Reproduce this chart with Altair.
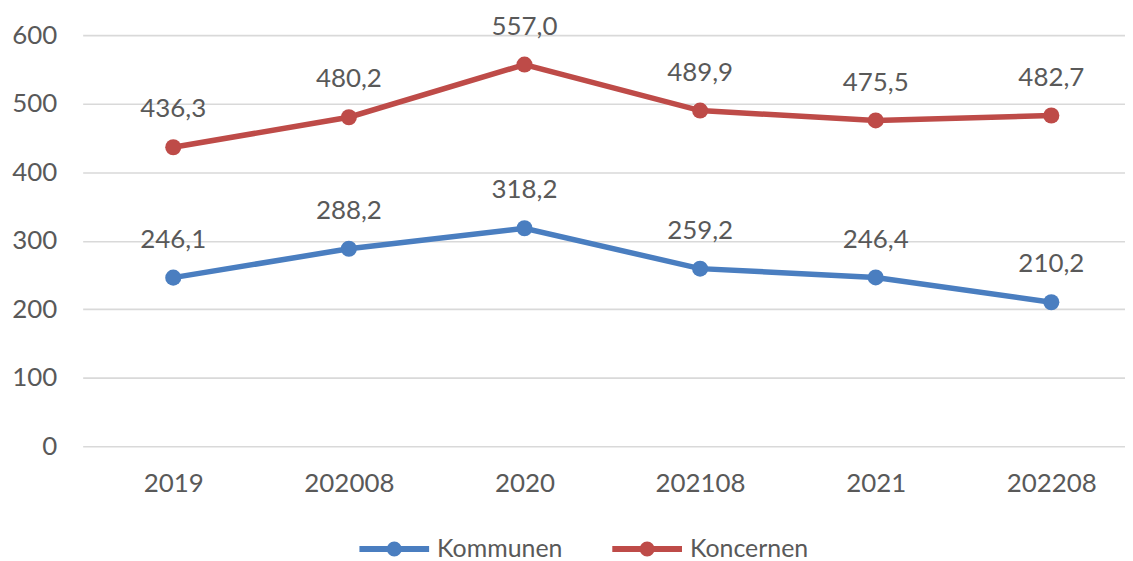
import altair as alt
import pandas as pd

periods = ["2019", "202008", "2020", "202108", "2021", "202208"]
kommunen = [246.1, 288.2, 318.2, 259.2, 246.4, 210.2]
koncernen = [436.3, 480.2, 557.0, 489.9, 475.5, 482.7]
series_names = ["Kommunen", "Koncernen"]
series_colors = ["#4A7EC0", "#BE4B48"]

rows = []
for p, v in zip(periods, kommunen):
    rows.append({"period": p, "value": v, "series": series_names[0]})
for p, v in zip(periods, koncernen):
    rows.append({"period": p, "value": v, "series": series_names[1]})
df = pd.DataFrame(rows)

FONT = "Lato"
GREY = "#595959"
FS = 26

x = alt.X("period:N", sort=periods,
          scale=alt.Scale(type="point", padding=0.4677, align=0.5515),
          axis=alt.Axis(title=None, grid=False, domain=False, ticks=False,
                        labelAngle=0, labelFontSize=FS, labelColor=GREY,
                        labelFont=FONT, labelPadding=24))
y = alt.Y("value:Q", scale=alt.Scale(domain=[0, 600], nice=False),
          axis=alt.Axis(title=None, values=[0, 100, 200, 300, 400, 500, 600],
                        domain=False, ticks=False, labelFontSize=FS,
                        labelColor=GREY, labelFont=FONT, labelPadding=26,
                        gridColor="#D9D9D9", gridWidth=1.6))
color = alt.Color("series:N", sort=series_names,
                  scale=alt.Scale(domain=series_names, range=series_colors),
                  legend=alt.Legend(title=None, orient="none", direction="horizontal",
                                    legendX=275, legendY=478,
                                    symbolType="M-1,0H1M0.13,0A0.13,0.13 0 1,1 -0.13,0A0.13,0.13 0 1,1 0.13,0",
                                    symbolSize=4900, symbolStrokeWidth=6,
                                    labelFontSize=25, labelColor=GREY, labelFont=FONT,
                                    labelOffset=5, columnPadding=38))

base = alt.Chart(df)
lines = base.mark_line(strokeWidth=5.5).encode(x=x, y=y, color=color)
points = base.mark_point(filled=True, size=260, opacity=1).encode(
    x=x, y=y, color=alt.Color("series:N", sort=series_names,
                              scale=alt.Scale(domain=series_names, range=series_colors),
                              legend=None))
labels = base.transform_calculate(
    label="replace(format(datum.value, '.1f'), '.', ',')"
).mark_text(dy=-30, baseline="alphabetic", fontSize=FS, color=GREY, font=FONT).encode(
    x=x, y=y, text="label:N")

chart = alt.layer(lines, points, labels).properties(
    width=1047, height=413,
    autosize=alt.AutoSizeParams(type="none"),
    padding={"top": 26, "left": 75, "right": 0, "bottom": 113},
).configure_view(stroke=None)

chart.save("out.html", embed_options={"renderer": "svg", "actions": False})
